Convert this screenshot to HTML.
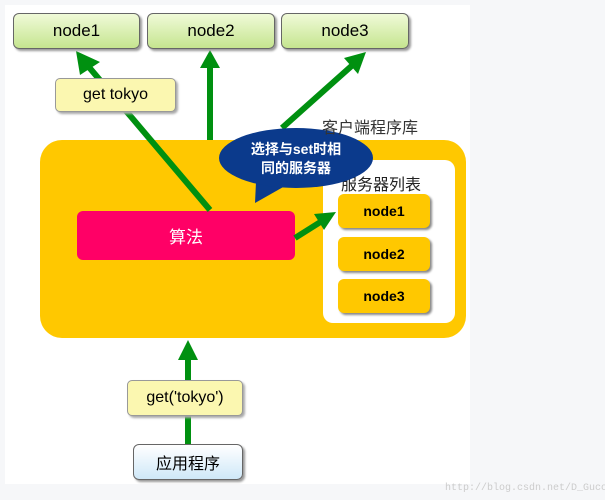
<!DOCTYPE html><html><head><meta charset="utf-8"><style>
body{margin:0;width:605px;height:500px;background:#f6f7f9;position:relative;overflow:hidden;font-family:"Liberation Sans","Noto Sans CJK SC",sans-serif}
.a{position:absolute;box-sizing:border-box;display:flex;align-items:center;justify-content:center}
.g{background:linear-gradient(#f0fad8,#c5e58f);border:1.5px solid #666;border-radius:6px;font-size:17px;box-shadow:2px 2px 2px #999}
.y{background:#fbf7b0;border:1.5px solid #999;border-radius:5px;font-size:16px;box-shadow:2px 2px 2px #aaa}
.n{background:#ffc800;border-radius:6px;font-size:14px;font-weight:bold;box-shadow:2px 2px 2px #888}
</style></head><body>
<div class="a" style="left:5px;top:5px;width:465px;height:479px;background:#fff"></div>
<div class="a" style="left:40px;top:140px;width:426px;height:198px;background:#ffc800;border-radius:22px"></div>
<div class="a" style="left:323px;top:160px;width:132px;height:163px;background:#fff;border-radius:10px"></div>
<div class="a" style="left:341px;top:171px;font-size:16px;color:#222">服务器列表</div>
<div class="a n" style="left:338px;top:194px;width:92px;height:34px">node1</div>
<div class="a n" style="left:338px;top:237px;width:92px;height:34px">node2</div>
<div class="a n" style="left:338px;top:279px;width:92px;height:34px">node3</div>
<div class="a" style="left:77px;top:211px;width:218px;height:49px;background:#ff0066;border-radius:6px;color:#fff;font-size:17px">算法</div>
<svg class="a" style="left:0;top:0" width="605" height="500">
<g stroke="#009010" stroke-width="6" fill="#009010">
<line x1="210" y1="210" x2="88" y2="66"/><polygon stroke="none" points="76,51 80,75 100,62"/>
<line x1="210" y1="140" x2="210" y2="66"/><polygon stroke="none" points="210,50 200,68 220,68"/>
<line x1="282" y1="128" x2="356" y2="62"/><polygon stroke="none" points="366,52 344,58 358,74"/>
<line x1="295" y1="238" x2="322" y2="221"/><polygon stroke="none" points="336,212 314,214 324,230"/>
<line x1="188" y1="445" x2="188" y2="356"/><polygon stroke="none" points="188,340 178,360 198,360"/>
</g>
<polygon points="256,182 255,203 285,186" fill="#0b3a8c"/>
<ellipse cx="296" cy="158" rx="77" ry="30" fill="#0b3a8c"/>
<text x="296" y="154" fill="#fff" font-size="14" font-weight="bold" text-anchor="middle" font-family="Liberation Sans,Noto Sans CJK SC,sans-serif">选择与set时相</text>
<text x="296" y="173" fill="#fff" font-size="14" font-weight="bold" text-anchor="middle" font-family="Liberation Sans,Noto Sans CJK SC,sans-serif">同的服务器</text>
</svg>
<div class="a" style="left:322px;top:114px;font-size:16px;color:#333">客户端程序库</div>
<div class="a g" style="left:13px;top:13px;width:127px;height:36px">node1</div>
<div class="a g" style="left:147px;top:13px;width:128px;height:36px">node2</div>
<div class="a g" style="left:281px;top:13px;width:128px;height:36px">node3</div>
<div class="a y" style="left:55px;top:78px;width:121px;height:34px">get tokyo</div>
<div class="a y" style="left:127px;top:380px;width:116px;height:36px">get('tokyo')</div>
<div class="a" style="left:133px;top:444px;width:110px;height:36px;background:linear-gradient(#fff,#cfe8f8);border:1.5px solid #666;border-radius:6px;font-size:16px;box-shadow:2px 2px 2px #999">应用程序</div>
<div class="a" style="left:445px;top:483px;font-size:10px;color:#ccc;font-family:'Liberation Mono',monospace">http://blog.csdn.net/D_Guco</div>
</body></html>
